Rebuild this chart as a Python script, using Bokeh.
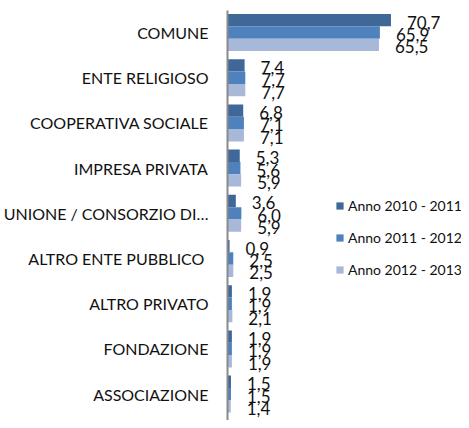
from bokeh.plotting import figure
from bokeh.models import ColumnDataSource, Range1d, Legend, LegendItem, FixedTicker
from bokeh.transform import dodge
from bokeh.embed import file_html
from bokeh.resources import INLINE
from bokeh.core.properties import value

categories = ["COMUNE", "ENTE RELIGIOSO", "COOPERATIVA SOCIALE", "IMPRESA PRIVATA",
              "UNIONE / CONSORZIO DI\u2026", "ALTRO ENTE  PUBBLICO", "ALTRO PRIVATO",
              "FONDAZIONE", "ASSOCIAZIONE"]
series_names = ["Anno 2010 - 2011", "Anno 2011 - 2012", "Anno 2012 - 2013"]
anno_2010_2011 = [70.7, 7.4, 6.8, 5.3, 3.6, 0.9, 1.9, 1.9, 1.5]
anno_2011_2012 = [65.9, 7.7, 7.1, 5.6, 6.0, 2.5, 1.9, 1.9, 1.5]
anno_2012_2013 = [65.5, 7.7, 7.1, 5.9, 5.9, 2.5, 2.1, 1.9, 1.4]
colors = ["#3F6898", "#4F81BD", "#A8B8D8"]

FONT = "Lato"
TEXT_COLOR = "#111111"

def fmt(v):
    return ("%.1f" % v).replace(".", ",")

n = len(categories)
ypos = [n - 1 - i for i in range(n)]  # first category at the top

src = ColumnDataSource(dict(
    y=ypos,
    s0=anno_2010_2011, s1=anno_2011_2012, s2=anno_2012_2013,
    l0=[fmt(v) for v in anno_2010_2011],
    l1=[fmt(v) for v in anno_2011_2012],
    l2=[fmt(v) for v in anno_2012_2013],
))

p = figure(width=461, height=420, output_backend="svg", toolbar_location=None,
           y_range=Range1d(-0.584, n - 1 + 0.487),
           x_range=Range1d(0, 101.2),
           min_border_left=222, min_border_right=0, min_border_top=10, min_border_bottom=0)
p.outline_line_color = None
p.xgrid.grid_line_color = None
p.ygrid.grid_line_color = None
p.xaxis.visible = False

yax = p.yaxis[0]
yax.ticker = FixedTicker(ticks=ypos)
yax.major_label_overrides = {y: c for y, c in zip(ypos, categories)}
yax.axis_line_color = "#8A8A8A"
yax.axis_line_width = 2
yax.major_tick_line_color = None
yax.minor_tick_line_color = None
yax.major_tick_out = 0
yax.major_tick_in = 0
yax.major_label_standoff = 19
yax.major_label_text_font = FONT
yax.major_label_text_font_size = "16px"
yax.major_label_text_color = TEXT_COLOR

bh = 0.273
offsets = [bh, 0.0, -bh]
renderers = []
for i, (name, col) in enumerate(zip(series_names, colors)):
    ycoord = dodge("y", offsets[i])
    r = p.hbar(y=ycoord, right="s%d" % i, left=0, height=bh, source=src,
               fill_color=col, line_color=None)
    renderers.append(r)
    p.text(x="s%d" % i, y=ycoord, text="l%d" % i, source=src,
           x_offset=16, y_offset=2, text_align="left", text_baseline="middle",
           text_font=value(FONT), text_font_size="17px", text_color=TEXT_COLOR)

legend = Legend(items=[LegendItem(label=nm, renderers=[r]) for nm, r in zip(series_names, renderers)],
                location=(108, 141), orientation="vertical",
                glyph_width=9, glyph_height=9, label_height=20, spacing=12,
                label_standoff=4, padding=0, margin=0,
                background_fill_alpha=0, border_line_color=None,
                label_text_font=FONT, label_text_font_size="14px", label_text_color=TEXT_COLOR)
p.add_layout(legend)

open("out.html", "w").write(file_html(p, INLINE))
